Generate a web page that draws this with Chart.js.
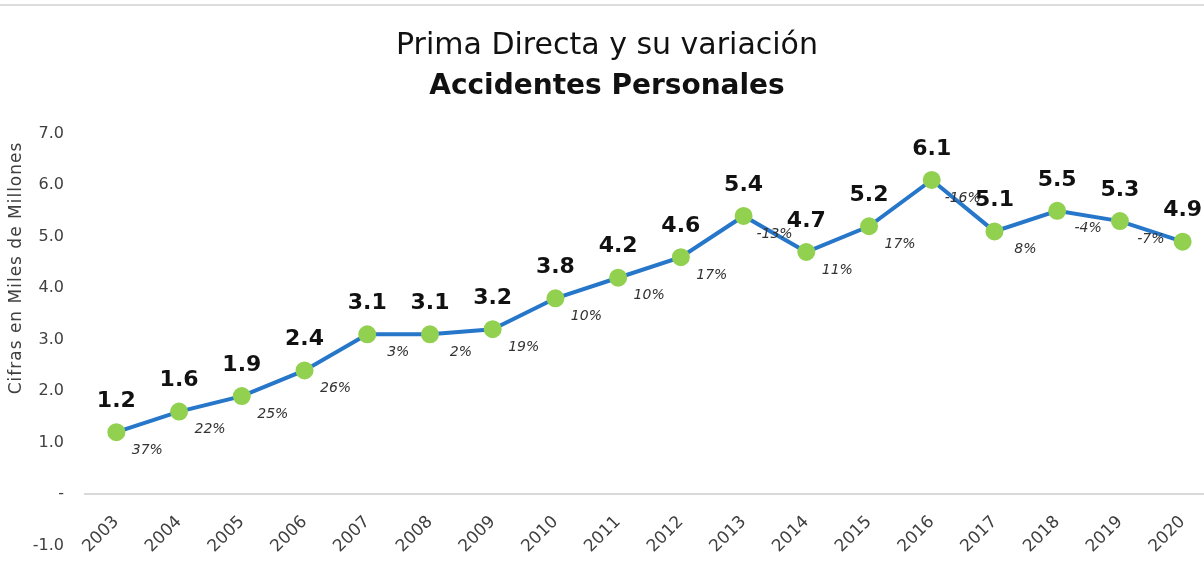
<!DOCTYPE html>
<html>
<head>
<meta charset="utf-8">
<script src="https://cdn.jsdelivr.net/npm/chart.js@4.4.1/dist/chart.umd.min.js"></script>
<style>
  html, body { margin: 0; padding: 0; background: #fff; overflow: hidden; }
  #wrap { position: relative; width: 1204px; height: 562px; overflow: hidden; }
  #topline { position: absolute; left: 0; top: 4px; width: 1204px; height: 0; border-top: 2px solid #dcdcdc; }
  canvas { position: absolute; left: 0; top: 0; }
</style>
</head>
<body>
<div id="wrap">
  <div id="topline"></div>
  <canvas id="chart" width="1230" height="576"></canvas>
</div>
<script>
// datos
const years = ['2003','2004','2005','2006','2007','2008','2009','2010','2011','2012','2013','2014','2015','2016','2017','2018','2019','2020']
const prima = [1.2, 1.6, 1.9, 2.4, 3.1, 3.1, 3.2, 3.8, 4.2, 4.6, 5.4, 4.7, 5.2, 6.1, 5.1, 5.5, 5.3, 4.9]
const variacion = ['37%','22%','25%','26%','3%','2%','19%','10%','10%','17%','-13%','11%','17%','-16%','8%','-4%','-7%', '']
const yTicks = [-1, 0, 1, 2, 3, 4, 5, 6, 7]

const FONT = "'DejaVu Sans', sans-serif"

const labelsPlugin = {
    id: 'labels',
    afterDatasetsDraw(chart) {
        const ctx = chart.ctx
        const pts = chart.getDatasetMeta(0).data
        ctx.save()
        ctx.textAlign = 'center'
        ctx.textBaseline = 'middle'
        pts.forEach((p, i) => {
            ctx.fillStyle = '#111'
            ctx.font = 'bold 22px ' + FONT
            ctx.fillText(prima[i].toFixed(1), p.x, p.y - 31)
            if (variacion[i]) {
                ctx.fillStyle = '#333'
                ctx.font = 'italic 14px ' + FONT
                ctx.fillText(variacion[i], p.x + 31, p.y + 18)
            }
        })
        // titulo eje y
        ctx.translate(17, 268)
        ctx.rotate(-Math.PI / 2)
        ctx.fillStyle = '#404040'
        ctx.font = '17px ' + FONT
        ctx.letterSpacing = '1px'
        ctx.fillText('Cifras en Miles de Millones', 0, 0)
        ctx.restore()
    }
}

new Chart(document.getElementById('chart'), {
    type: 'line',
    data: {
        labels: years,
        datasets: [{
            label: 'Prima Directa',
            data: prima,
            borderColor: '#2676c9',
            borderWidth: 4,
            pointBackgroundColor: '#92d050',
            pointBorderColor: '#92d050',
            pointRadius: 7,
            tension: 0
        }]
    },
    options: {
        responsive: false,
        animation: false,
        layout: { padding: { left: 0, right: 16, top: 0, bottom: 4 } },
        plugins: {
            legend: { display: false },
            tooltip: { enabled: false },
            title: {
                display: true,
                text: 'Prima Directa y su variación',
                color: '#111',
                font: { family: FONT, size: 30, weight: 'normal', lineHeight: 1.2 },
                padding: { top: 28, bottom: 0 }
            },
            subtitle: {
                display: true,
                text: 'Accidentes Personales',
                color: '#111',
                font: { family: FONT, size: 28, weight: 'bold', lineHeight: 1.2 },
                padding: { top: 6, bottom: 30 }
            }
        },
        scales: {
            x: {
                position: { y: 0 },
                offset: true,
                grid: { display: false, drawTicks: false },
                border: { display: true, color: '#d9d9d9', width: 2 },
                ticks: {
                    color: '#404040',
                    font: { family: FONT, size: 17 },
                    maxRotation: 45,
                    minRotation: 45,
                    padding: 18,
                    autoSkip: false
                }
            },
            y: {
                min: -1,
                max: 7,
                afterFit(scale) { scale.width = 85 },
                afterBuildTicks(scale) { scale.ticks = yTicks.map(v => ({ value: v })) },
                grid: { display: false, drawTicks: false },
                border: { display: false },
                ticks: {
                    color: '#404040',
                    font: { family: FONT, size: 16 },
                    padding: 21,
                    callback: v => v === 0 ? '-' : v.toFixed(1)
                }
            }
        }
    },
    plugins: [labelsPlugin]
})
</script>
</body>
</html>
